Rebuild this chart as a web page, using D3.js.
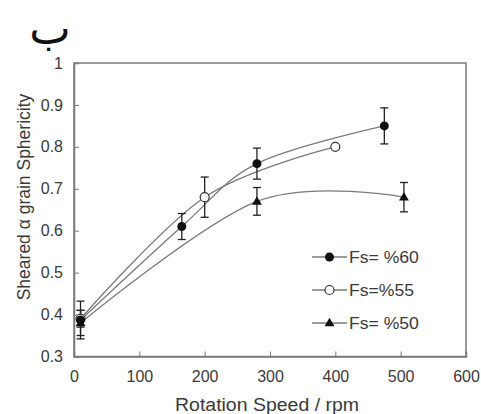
<!DOCTYPE html>
<html>
<head>
<meta charset="utf-8">
<script src="https://cdn.jsdelivr.net/npm/d3@7.9.0/dist/d3.min.js"></script>
<style>
  body { margin: 0; background: #fff; }
  svg text { font-family: "Liberation Sans", Arial, sans-serif; fill: #3a3a3a; }
</style>
</head>
<body>
<svg id="chart" width="481" height="414"></svg>
<script>
// series: [rpm, sphericity, error]
const fs60 = [[10, 0.387, 0.045], [165, 0.61, 0.031], [280, 0.76, 0.037], [475, 0.85, 0.043]];
const fs55 = [[10, 0.39, 0.02], [200, 0.68, 0.048], [400, 0.80, 0]];
const fs50 = [[10, 0.38, 0.03], [280, 0.67, 0.033], [505, 0.68, 0.035]];
const seriesNames = ['Fs= %60', 'Fs=%55', 'Fs= %50'];
const xTicks = [0, 100, 200, 300, 400, 500, 600];
const yTicks = [0.3, 0.4, 0.5, 0.6, 0.7, 0.8, 0.9, 1];

const svg = d3.select('#chart');
const x = d3.scaleLinear().domain([0, 600]).range([74, 466]);
const y = d3.scaleLinear().domain([0.3, 1]).range([356.5, 63]);
const gray = '#7a7a7a';

// frame
svg.append('rect')
  .attr('x', 74).attr('y', 63).attr('width', 392).attr('height', 293.5)
  .attr('fill', 'none').attr('stroke', gray).attr('stroke-width', 1.5);

// axes with inward ticks
const xAxis = svg.append('g').attr('transform', 'translate(0,356.5)')
  .call(d3.axisBottom(x).tickValues(xTicks).tickSize(-5).tickPadding(14).tickFormat(d3.format('d')));
const yAxis = svg.append('g').attr('transform', 'translate(74,0)')
  .call(d3.axisLeft(y).tickValues(yTicks).tickSize(-5).tickPadding(11).tickFormat(d => d === 1 ? '1' : d3.format('.1f')(d)));
[xAxis, yAxis].forEach(g => {
  g.select('.domain').attr('stroke', gray).attr('stroke-width', 1.5);
  g.selectAll('.tick line').attr('stroke', gray);
  g.selectAll('.tick text').attr('font-size', 16).style('fill', '#3a3a3a');
});

// smooth curves
const line = d3.line().x(d => x(d[0])).y(d => y(d[1])).curve(d3.curveCardinal.tension(0));
[fs60, fs55, fs50].forEach(s => {
  svg.append('path').attr('d', line(s))
    .attr('fill', 'none').attr('stroke', gray).attr('stroke-width', 1.3);
});

// error bars
function errorBars(s) {
  const g = svg.append('g').attr('stroke', '#222').attr('stroke-width', 1.3);
  s.filter(d => d[2] > 0).forEach(d => {
    const cx = x(d[0]), y1 = y(d[1] + d[2]), y2 = y(d[1] - d[2]);
    g.append('line').attr('x1', cx).attr('x2', cx).attr('y1', y1).attr('y2', y2);
    g.append('line').attr('x1', cx - 4).attr('x2', cx + 4).attr('y1', y1).attr('y2', y1);
    g.append('line').attr('x1', cx - 4).attr('x2', cx + 4).attr('y1', y2).attr('y2', y2);
  });
}
[fs60, fs55, fs50].forEach(errorBars);

const tri = d3.symbol().type(d3.symbolTriangle).size(42);
function marker(g, kind, cx, cy) {
  if (kind === 0) {
    g.append('circle').attr('cx', cx).attr('cy', cy).attr('r', 4.5).attr('fill', '#111');
  } else if (kind === 1) {
    g.append('circle').attr('cx', cx).attr('cy', cy).attr('r', 4.5)
      .attr('fill', '#fff').attr('stroke', '#333').attr('stroke-width', 1.2);
  } else {
    g.append('path').attr('d', tri).attr('transform', `translate(${cx},${cy + 0.5})`).attr('fill', '#111');
  }
}
const marks = svg.append('g');
[fs55, fs50, fs60].forEach(s => {
  const k = s === fs60 ? 0 : s === fs55 ? 1 : 2;
  s.forEach(d => marker(marks, k, x(d[0]), y(d[1])));
});

// legend
const legend = svg.append('g');
seriesNames.forEach((name, i) => {
  const ly = 257 + i * 33;
  legend.append('line').attr('x1', 312).attr('x2', 347).attr('y1', ly).attr('y2', ly)
    .attr('stroke', gray).attr('stroke-width', 1.3);
  marker(legend, i, 329.5, ly);
  legend.append('text').attr('transform', `translate(349,${ly + 5.5}) scale(1.1,1)`)
    .attr('font-size', 16).text(name);
});

// axis titles
svg.append('text').attr('x', 267).attr('y', 411).attr('text-anchor', 'middle')
  .attr('font-size', 18).attr('textLength', 184).attr('lengthAdjust', 'spacingAndGlyphs')
  .text('Rotation Speed / rpm');
svg.append('text').attr('transform', 'translate(30,197) rotate(-90)').attr('text-anchor', 'middle')
  .attr('font-size', 17.5).text('Sheared α grain Sphericity');

// panel label
svg.append('text').attr('x', 50).attr('y', 44).attr('text-anchor', 'middle')
  .attr('font-size', 44).style('font-family', '"DejaVu Sans", "Noto Sans", sans-serif')
  .style('fill', '#111').text('ب');
</script>
</body>
</html>
